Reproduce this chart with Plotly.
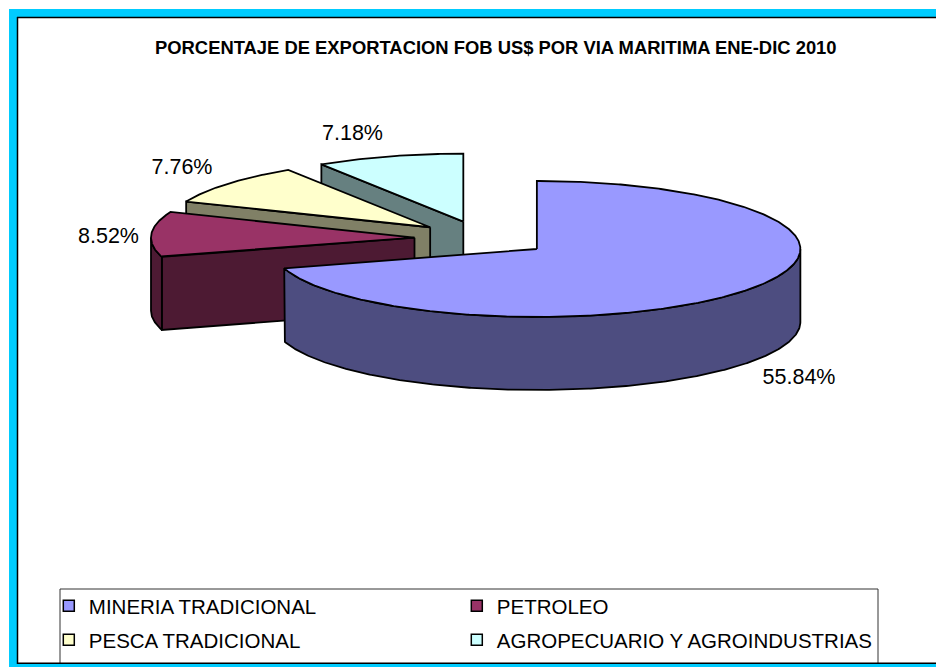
import math
import plotly.graph_objects as go

TITLE = "PORCENTAJE DE EXPORTACION FOB US$ POR VIA MARITIMA ENE-DIC 2010"
categories = ["MINERIA TRADICIONAL", "PETROLEO", "PESCA TRADICIONAL", "AGROPECUARIO Y AGROINDUSTRIAS"]
values = [55.84, 8.52, 7.76, 7.18]
top_colors = ["#9999FF", "#993366", "#FFFFCC", "#CCFFFF"]
wall_colors = ["#4D4D80", "#4D1A33", "#808066", "#668080"]
label_pos = [(799, 379), (108.5, 238), (182, 169), (352.5, 135)]

W, H = 936, 667
BX, BY, RX, RY, DEPTH, EXPLODE = 482.4, 238.5, 263.5, 68, 73, 0.258
LINE = dict(color="black", width=1.8)


def pt(cx, cy, deg, dz=0):
    a = math.radians(deg)
    return cx + RX * math.sin(a), cy - RY * math.cos(a) + dz


def arc(cx, cy, a0, a1, dz=0):
    n = max(2, int(abs(a1 - a0) * 2))
    return [pt(cx, cy, a0 + (a1 - a0) * i / n, dz) for i in range(n + 1)]


fig = go.Figure()


def poly(points, fill, name=None):
    xs = [p[0] for p in points] + [points[0][0]]
    ys = [p[1] for p in points] + [points[0][1]]
    fig.add_trace(go.Scatter(x=xs, y=ys, mode="lines", fill="toself", fillcolor=fill,
                             line=LINE, showlegend=False, hoverinfo="skip" if name is None else "text",
                             text=name))


total = sum(values)
spans = []
start = 0.0
for v in values:
    spans.append((start, start + v / total * 360))
    start += v / total * 360

# back to front: last slice first
for i in range(len(values) - 1, -1, -1):
    a0, a1 = spans[i]
    mid = math.radians((a0 + a1) / 2)
    cx = BX + EXPLODE * RX * math.sin(mid)
    cy = BY - EXPLODE * RY * math.cos(mid)
    for ang, vis in ((a0, math.sin(math.radians(a0)) < -1e-6), (a1, math.sin(math.radians(a1)) > 1e-6)):
        if vis:
            e = pt(cx, cy, ang)
            poly([(cx, cy), e, (e[0], e[1] + DEPTH), (cx, cy + DEPTH)], wall_colors[i])
    w0, w1 = max(a0, 90), min(a1, 270)
    if w1 > w0:
        poly(arc(cx, cy, w0, w1) + arc(cx, cy, w1, w0, DEPTH), wall_colors[i])
    poly([(cx, cy)] + arc(cx, cy, a0, a1), top_colors[i], categories[i])

# legend entries: one small legend per cell of the 2x2 grid
legend_ids = ["legend", "legend2", "legend3", "legend4"]
for c, col, lid in zip(categories, top_colors, legend_ids):
    fig.add_trace(go.Scatter(x=[None], y=[None], mode="markers", name=c, legend=lid,
                             marker=dict(symbol="square", size=11, color=col, line=dict(color="black", width=1.5))))

fig.add_trace(go.Scatter(x=[p[0] for p in label_pos], y=[p[1] for p in label_pos], mode="text",
                         text=[f"{v:.2f}%" for v in values], showlegend=False, hoverinfo="skip",
                         textfont=dict(family="Liberation Sans", size=21.5, color="black")))

shapes = [
    dict(type="rect", x0=60, x1=878, y0=589, y1=670, line=dict(color="#333333", width=1), fillcolor="white", layer="below"),
    dict(type="rect", x0=9, x1=18, y0=9, y1=667, line_width=0, fillcolor="#00CCFF"),
    dict(type="rect", x0=9, x1=936, y0=9, y1=17, line_width=0, fillcolor="#00CCFF"),
    dict(type="rect", x0=9, x1=936, y0=663.5, y1=667, line_width=0, fillcolor="#00CCFF"),
    dict(type="line", x0=17.5, x1=17.5, y0=17, y1=664, line=dict(color="black", width=1.5)),
    dict(type="line", x0=17, x1=936, y0=17.5, y1=17.5, line=dict(color="black", width=1.5)),
    dict(type="line", x0=17, x1=936, y0=663.2, y1=663.2, line=dict(color="black", width=1.5)),
]

legend_common = dict(orientation="v", xanchor="left", yanchor="top", bgcolor="rgba(0,0,0,0)",
                     font=dict(family="Liberation Sans", size=20.5, color="black"))
COL_X = [48.8 / W, 456.8 / W]
ROW_Y = [1 - 586 / H, 1 - 620 / H]

fig.update_layout(
    width=W, height=H, margin=dict(l=0, r=0, t=0, b=0),
    paper_bgcolor="white", plot_bgcolor="white",
    xaxis=dict(range=[0, W], visible=False, fixedrange=True),
    yaxis=dict(range=[H, 0], visible=False, fixedrange=True),
    shapes=shapes,
    annotations=[dict(text=f"<b>{TITLE}</b>", x=496, y=47, xref="x", yref="y", showarrow=False,
                      font=dict(family="Liberation Sans", size=18.4, color="black"))],
    legend=dict(x=COL_X[0], y=ROW_Y[0], **legend_common),
    legend2=dict(x=COL_X[1], y=ROW_Y[0], **legend_common),
    legend3=dict(x=COL_X[0], y=ROW_Y[1], **legend_common),
    legend4=dict(x=COL_X[1], y=ROW_Y[1], **legend_common),
)
fig.write_html("out.html", config={"displayModeBar": False},
               post_script="document.body.style.margin='0';document.body.style.overflow='hidden';")
